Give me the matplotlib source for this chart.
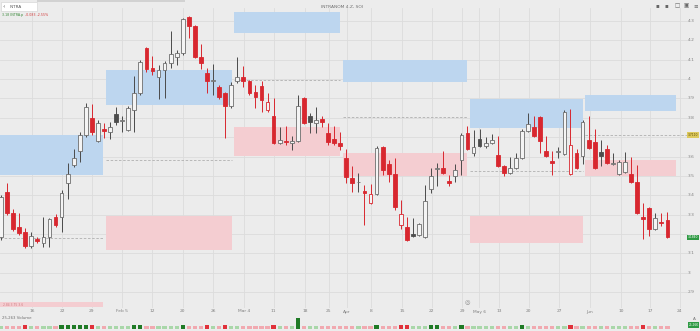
import matplotlib
matplotlib.use("Agg")
import matplotlib.pyplot as plt
from matplotlib.patches import Rectangle

# ---------------- data ----------------
opens = [3.184, 3.417, 3.308, 3.236, 3.210, 3.138, 3.172, 3.153, 3.184, 3.288,
         3.288, 3.463, 3.556, 3.629, 3.711, 3.799, 3.680, 3.742, 3.727, 3.820,
         3.786, 3.737, 3.840, 3.928, 4.161, 4.057, 4.011, 4.047, 4.083, 4.114,
         4.135, 4.321, 4.274, 4.114, 4.032, 3.988, 3.959, 3.928, 3.861, 3.990,
         4.011, 3.990, 3.933, 3.964, 3.840, 3.809, 3.670, 3.678, 3.670, 3.680,
         3.902, 3.809, 3.773, 3.794, 3.722, 3.691, 3.670, 3.592, 3.489, 3.466,
         3.422, 3.360, 3.407, 3.649, 3.561, 3.510, 3.246, 3.236, 3.200, 3.195,
         3.184, 3.432, 3.538, 3.541, 3.474, 3.500, 3.582, 3.722, 3.618, 3.691,
         3.654, 3.670, 3.608, 3.551, 3.515, 3.541, 3.592, 3.732, 3.753, 3.804,
         3.629, 3.577, 3.626, 3.613, 3.510, 3.618, 3.603, 3.685, 3.675, 3.623,
         3.639, 3.564, 3.510, 3.520, 3.510, 3.469, 3.288, 3.334, 3.226, 3.262,
         3.272]
highs = [3.401, 3.463, 3.329, 3.308, 3.231, 3.210, 3.184, 3.288, 3.282, 3.303,
         3.427, 3.567, 3.639, 3.727, 3.877, 3.871, 3.789, 3.773, 3.778, 3.856,
         3.809, 3.861, 4.016, 4.099, 4.166, 4.119, 4.073, 4.093, 4.248, 4.150,
         4.316, 4.326, 4.279, 4.181, 4.057, 4.078, 3.970, 3.933, 3.985, 4.114,
         4.068, 3.995, 3.970, 3.990, 3.928, 3.902, 3.753, 3.758, 3.706, 3.918,
         3.908, 3.825, 3.856, 3.809, 3.773, 3.758, 3.727, 3.639, 3.551, 3.515,
         3.453, 3.458, 3.654, 3.654, 3.582, 3.592, 3.376, 3.288, 3.283, 3.257,
         3.453, 3.541, 3.567, 3.629, 3.505, 3.561, 3.722, 3.758, 3.737, 3.742,
         3.701, 3.716, 3.706, 3.556, 3.598, 3.618, 3.742, 3.825, 3.809, 3.809,
         3.706, 3.629, 3.649, 3.840, 3.846, 3.639, 3.789, 3.809, 3.742, 3.685,
         3.660, 3.618, 3.582, 3.623, 3.598, 3.556, 3.360, 3.339, 3.308, 3.308,
         3.313]
lows = [3.169, 3.298, 3.215, 3.195, 3.128, 3.128, 3.153, 3.133, 3.133, 3.236,
        3.210, 3.381, 3.546, 3.572, 3.701, 3.711, 3.675, 3.696, 3.691, 3.763,
        3.727, 3.732, 3.727, 3.918, 4.037, 4.021, 3.897, 3.902, 4.057, 4.073,
        4.124, 4.212, 4.109, 4.052, 3.928, 3.918, 3.897, 3.696, 3.851, 3.980,
        3.959, 3.918, 3.851, 3.830, 3.830, 3.665, 3.665, 3.660, 3.634, 3.675,
        3.768, 3.722, 3.722, 3.753, 3.660, 3.660, 3.634, 3.463, 3.417, 3.417,
        3.246, 3.355, 3.401, 3.505, 3.469, 3.324, 3.226, 3.164, 3.184, 3.190,
        3.179, 3.412, 3.448, 3.510, 3.448, 3.469, 3.505, 3.634, 3.603, 3.649,
        3.644, 3.665, 3.546, 3.500, 3.510, 3.536, 3.587, 3.727, 3.701, 3.618,
        3.598, 3.505, 3.592, 3.608, 3.505, 3.536, 3.561, 3.639, 3.536, 3.551,
        3.561, 3.556, 3.505, 3.515, 3.463, 3.303, 3.174, 3.190, 3.221, 3.241,
        3.179]
closes = [3.391, 3.308, 3.226, 3.205, 3.138, 3.190, 3.166, 3.184, 3.277, 3.246,
          3.412, 3.510, 3.592, 3.711, 3.856, 3.727, 3.773, 3.732, 3.753, 3.778,
          3.791, 3.851, 3.928, 4.088, 4.052, 4.042, 4.047, 4.083, 4.130, 4.135,
          4.310, 4.274, 4.114, 4.083, 3.990, 3.993, 3.908, 3.861, 3.970, 4.011,
          3.990, 3.928, 3.908, 3.892, 3.882, 3.670, 3.685, 3.675, 3.680, 3.861,
          3.773, 3.778, 3.789, 3.778, 3.675, 3.670, 3.654, 3.494, 3.463, 3.471,
          3.412, 3.407, 3.644, 3.530, 3.510, 3.339, 3.303, 3.169, 3.190, 3.252,
          3.370, 3.500, 3.543, 3.515, 3.463, 3.530, 3.711, 3.639, 3.649, 3.654,
          3.670, 3.685, 3.551, 3.515, 3.541, 3.592, 3.732, 3.768, 3.706, 3.680,
          3.603, 3.567, 3.631, 3.830, 3.660, 3.541, 3.778, 3.644, 3.541, 3.603,
          3.567, 3.569, 3.572, 3.572, 3.469, 3.308, 3.277, 3.226, 3.283, 3.257,
          3.184]
volumes = [1.0, 1.0, 1.0, 1.0, 1.5, 1.0, 1.0, 1.0, 1.0, 1.0,
           1.6, 1.6, 1.6, 1.6, 1.6, 1.5, 1.0, 1.0, 1.0, 1.0,
           1.0, 1.0, 1.6, 1.6, 1.0, 1.0, 1.0, 1.0, 1.0, 1.0,
           1.6, 1.0, 1.0, 1.0, 1.5, 1.0, 1.0, 1.5, 1.0, 1.0,
           1.0, 1.0, 1.0, 1.0, 1.0, 1.6, 1.0, 1.0, 1.0, 5.0,
           1.0, 1.0, 1.0, 1.0, 1.0, 1.0, 1.0, 1.0, 1.0, 1.0,
           1.0, 1.0, 1.5, 1.0, 1.0, 1.0, 1.6, 1.6, 1.0, 1.0,
           1.0, 1.5, 1.5, 1.0, 1.0, 1.0, 1.5, 1.0, 1.0, 1.0,
           1.0, 1.0, 1.0, 1.0, 1.0, 1.0, 1.5, 1.0, 1.0, 1.0,
           1.0, 1.0, 1.0, 1.0, 1.6, 1.0, 1.0, 1.0, 1.0, 1.0,
           1.0, 1.0, 1.0, 1.0, 1.0, 1.0, 1.6, 1.0, 1.0, 1.0,
           1.0]

date_tick_pos = [5.1, 10.1, 15.0, 20.0, 24.9, 30.0, 35.0, 40.1, 45.0, 50.2,
                 54.1, 57.1, 61.1, 66.2, 71.1, 76.1, 78.9, 82.2, 87.1, 92.1,
                 97.2, 102.3, 107.1, 112.0]
date_tick_labels = ["16", "22", "29", "Feb 5", "12", "20", "26", "Mar 4", "11", "18",
                    "25", "Apr", "8", "15", "22", "29", "May 6", "13", "20", "27",
                    "Jun", "10", "17", "24"]
price_ticks = [4.3, 4.2, 4.1, 4.0, 3.9, 3.8, 3.6, 3.5, 3.4, 3.3, 3.1, 3.0, 2.9]
price_tick_labels = ["4.3", "4.2", "4.1", "4", "3.9", "3.8", "3.6", "3.5", "3.4",
                     "3.3", "3.1", "3", "2.9"]

# monthly zones
zone_start = [-0.2, 17.3, 38.4, 56.4, 77.4, 96.4]
zone_end = [16.8, 38.1, 56.0, 77.0, 96.0, 111.5]
supply_top = [3.711, 4.047, 4.347, 4.099, 3.897, 3.918]
supply_bot = [3.505, 3.866, 4.238, 3.985, 3.747, 3.835]
demand_top = [2.849, 3.293, 3.753, 3.618, 3.293, 3.582]
demand_bot = [2.823, 3.117, 3.603, 3.500, 3.154, 3.500]
pivot = [3.182, 3.582, 3.995, 3.804, 3.523, 3.711]

last_price = 3.184
ref_price = 3.711

# ---------------- styling ----------------
BG = "#ececec"
GRID = "#dcdcdc"
RED = "#d8272f"
GRAY_EDGE = "#6e6e6e"
DARK = "#4d4d4d"
BLUE = "#bdd6ef"
PINK = "#f4cdd1"
W, H = 700, 331

def fx(px):
    return px / W

def fy(py):
    return 1 - py / H

fig = plt.figure(figsize=(7.0, 3.31), dpi=100, facecolor=BG)

x_lo, x_hi = -0.165, 113.4
ax = fig.add_axes([0, fy(308), fx(688), fy(8) - fy(308)], facecolor=BG)
ax.set_xlim(x_lo, x_hi)
ax.set_ylim(2.818, 4.367)
for s in ax.spines.values():
    s.set_visible(False)

# grid
for p in [4.3, 4.2, 4.1, 4.0, 3.9, 3.8, 3.7, 3.6, 3.5, 3.4, 3.3, 3.2, 3.1, 3.0, 2.9]:
    ax.axhline(p, color=GRID, lw=0.6, zorder=0)
for t in date_tick_pos:
    ax.axvline(t, color=GRID, lw=0.6, zorder=0)

# zones
for i in range(len(zone_start)):
    x0, x1 = zone_start[i], zone_end[i]
    ax.add_patch(Rectangle((x0, supply_bot[i]), x1 - x0, supply_top[i] - supply_bot[i],
                           facecolor=BLUE, edgecolor="none", zorder=1))
    ax.add_patch(Rectangle((x0, demand_bot[i]), x1 - x0, demand_top[i] - demand_bot[i],
                           facecolor=PINK, edgecolor="none", zorder=1))
    xe = x_hi if i == len(zone_start) - 1 else x1
    ax.plot([x0, xe], [pivot[i], pivot[i]], color="#b0b0b0", lw=0.6,
            ls=(0, (3, 2)), zorder=1.5)
ax.text(0.3, (demand_top[0] + demand_bot[0]) / 2, "2.84 3.75 3.6", fontsize=2.2,
        color="#d07a80", va="center", ha="left", zorder=2)

# candles
n = len(opens)
bw = 0.62
for i in range(n):
    o, h, l, c = opens[i], highs[i], lows[i], closes[i]
    pc = closes[i - 1] if i > 0 else o
    down_vs_prev = c < pc
    if c >= o:
        edge = RED if down_vs_prev else GRAY_EDGE
        face = "#f4f4f4"
        wick = RED if down_vs_prev else "#4a4a4a"
    else:
        face = RED if down_vs_prev else DARK
        edge = face
        wick = face
    ax.vlines(i, l, h, color=wick, lw=0.7, zorder=3)
    lo, hi = min(o, c), max(o, c)
    ax.bar(i, max(hi - lo, 0.002), bottom=lo, width=bw, facecolor=face,
           edgecolor=edge, linewidth=0.6, zorder=4)

# right price axis labels
for p, lab in zip(price_ticks, price_tick_labels):
    ax.text(1.0, p, lab, transform=ax.get_yaxis_transform(), fontsize=3.2,
            color="#808080", ha="left", va="center", clip_on=False)
ax.set_xticks([])
ax.set_yticks([])

badge_tr = ax.get_yaxis_transform()
ax.text(1.0 + fx(10.5) / fx(688), ref_price, f"{ref_price:.4f}", transform=badge_tr,
        fontsize=2.2, color="#5a4a00", ha="right", va="center", clip_on=False, zorder=6,
        bbox=dict(boxstyle="square,pad=0.2", fc="#ddc95e", ec="none"))
ax.text(1.0 + fx(10.5) / fx(688), last_price, f"{last_price:.4f}", transform=badge_tr,
        fontsize=2.2, color="white", ha="right", va="center", clip_on=False, zorder=6,
        bbox=dict(boxstyle="square,pad=0.2", fc="#2f9a44", ec="none"))

# date labels
for t, lab in zip(date_tick_pos, date_tick_labels):
    fig.text(fx(1 + t * 6.06), fy(311.5), lab, fontsize=3.2, color="#808080",
             ha="center", va="center")

# small circle icon
fig.text(fx(467), fy(303), "\u25ce", fontsize=4.5, color="#888888",
         ha="center", va="center")

# volume panel
vax = fig.add_axes([0, fy(328.5), fx(688), fy(316) - fy(328.5)], facecolor=BG)
vax.set_xlim(x_lo, x_hi)
vax.set_ylim(0, 6.2)
for s in vax.spines.values():
    s.set_visible(False)
vax.set_xticks([])
vax.set_yticks([])
for i in range(n):
    pc = closes[i - 1] if i > 0 else opens[i]
    up = closes[i] >= pc
    strong = volumes[i] >= 1.3
    if up:
        col = "#1f7a25" if strong else "#a9d7a9"
    else:
        col = "#e0313a" if strong else "#f1a9b0"
    vax.bar(i, volumes[i], width=0.7, color=col, zorder=2)
fig.text(fx(2), fy(318), "25,263 Volume", fontsize=2.8, color="#707070",
         ha="left", va="center")
fig.text(fx(694), fy(319), "A", fontsize=3, color="#707070", ha="center", va="center")
fig.text(fx(698.5), fy(325), "25.26K", fontsize=2.1, color="white", ha="right", va="center",
         bbox=dict(boxstyle="square,pad=0.2", fc="#2f9a44", ec="none"))

# header
fig.patches.append(Rectangle((fx(37), fy(2.2)), fx(185) - fx(37), fy(0) - fy(2.2),
                             transform=fig.transFigure, facecolor="#d2d2d2",
                             edgecolor="none"))
fig.patches.append(Rectangle((fx(1), fy(11)), fx(37) - fx(1), fy(2) - fy(11),
                             transform=fig.transFigure, facecolor="white",
                             edgecolor="#d0d0d0", linewidth=0.4))
fig.text(fx(3.5), fy(6.5), "\u2039", fontsize=4.5, color="#555555", ha="center", va="center")
fig.text(fx(10), fy(6.5), "INTRA", fontsize=3, color="#555555", ha="left", va="center")
fig.text(fx(342), fy(7), "INTRANOM 4.Z, SOI", fontsize=3.2, color="#707070",
         ha="center", va="center")
fig.text(fx(2), fy(15), "3.18 INTRA.p", fontsize=2.3, color="#3a8a3a",
         ha="left", va="center")
fig.text(fx(25), fy(15), "-0.083 -2.55%", fontsize=2.3, color="#d33a3a",
         ha="left", va="center")
for xi, sym in zip([657, 666, 677, 686, 696], ["\u25aa", "\u25aa", "\u25a1", "\u25a3", "\u2261"]):
    fig.text(fx(xi), fy(6), sym, fontsize=4, color="#666666", ha="center", va="center")

fig.savefig("out.png", dpi=100, facecolor=BG)
